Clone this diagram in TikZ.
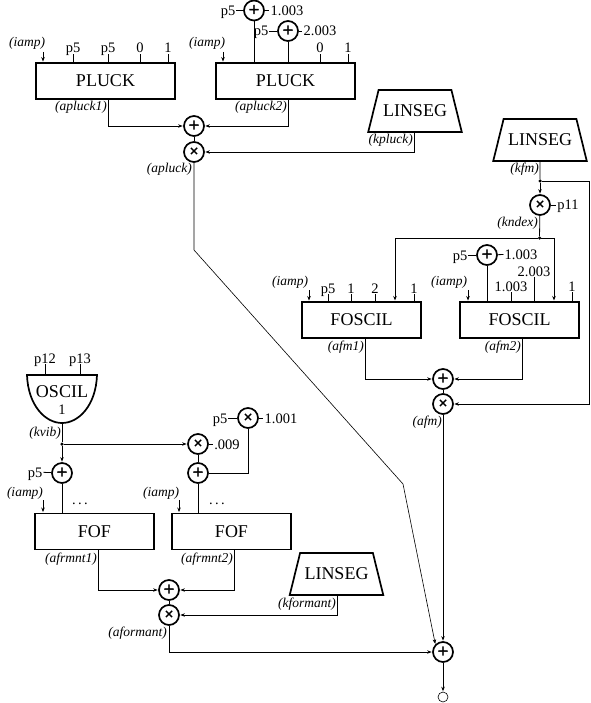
\documentclass[tikz,border=0pt]{standalone}
\usepackage{fontspec}
\setmainfont{Liberation Serif}
\newfontfamily\opfont[FakeBold=2.5]{Liberation Serif}
\usetikzlibrary{arrows.meta,shapes.geometric}

\tikzset{
  blockbox/.style={draw,line width=1.9pt,minimum width=119pt,minimum height=36pt,inner sep=0pt,font=\fontsize{18}{20}\selectfont},
  lineblock/.style={draw,line width=1.7pt,trapezium,trapezium stretches=true,trapezium left angle=53,trapezium right angle=53,minimum width=94pt,minimum height=42pt,inner sep=0pt,font=\fontsize{18}{20}\selectfont},
  sumop/.style={circle,draw,line width=1.7pt,minimum size=20pt,inner sep=0pt,font=\fontsize{19}{20}\opfont},
  multop/.style={sumop,font=\fontsize{16}{17}\opfont},
  pval/.style={inner sep=1pt,text height=10pt,text depth=0pt,font=\fontsize{14.5}{16}\selectfont},
  sigtag/.style={inner sep=1pt,anchor=east,font=\fontsize{13.5}{14}\selectfont\itshape},
  ampin/.style={inner sep=1pt,font=\fontsize{13.5}{14}\selectfont\itshape},
  joint/.style={circle,fill,inner sep=0pt,minimum size=3.5pt},
  wire/.style={line width=0.8pt},
  sig/.style={wire,-{Stealth[length=4.5pt,width=3.5pt]},shorten >=0.5pt}
}

\begin{document}
\begin{tikzpicture}[x=1pt,y=-1pt]
\useasboundingbox (0,0) rectangle (590,703);

\node[blockbox,minimum width=139pt] (pluckA) at (105.5,81) {PLUCK};
\node[blockbox,minimum width=139pt] (pluckB) at (285.5,81) {PLUCK};
\node[sumop] (sumP) at (194,126) {+};
\node[multop] (multP) at (194,152) {\texttimes};
\node[lineblock] (linA) at (415,111) {LINSEG};

\node[ampin] (iampA) at (27,43) {(iamp)};
\node[ampin] (iampB) at (207,43) {(iamp)};
\coordinate (inA) at (43,52);
\coordinate (inB) at (223,52);
\node[pval] (pA1) at (73,48) {p5};
\node[pval] (pA2) at (108,48) {p5};
\node[pval] (pA3) at (140,48) {0};
\node[pval] (pA4) at (168,48) {1};
\node[pval] (pB3) at (320,48) {0};
\node[pval] (pB4) at (348,48) {1};

\node[sumop] (addA) at (254,10.5) {+};
\node[pval] (pC1) at (228,10.5) {p5};
\node[pval] (pC2) at (287,10.5) {1.003};
\node[sumop] (addB) at (288,31) {+};
\node[pval] (pD1) at (261,31) {p5};
\node[pval] (pD2) at (320,31) {2.003};

\node[sigtag] (apluckA) at (108,107) {(apluck1)};
\node[sigtag] (apluckB) at (288,107) {(apluck2)};
\node[sigtag] (apluck) at (193,169) {(apluck)};
\node[sigtag] (kpluck) at (414,140) {(kpluck)};

\draw[sig] (inA) -- (inA |- pluckA.north);
\draw[sig] (inB) -- (inB |- pluckB.north);
\draw[wire] (pA1.south) -- (pA1.south |- pluckA.north);
\draw[wire] (pA2.south) -- (pA2.south |- pluckA.north);
\draw[wire] (pA3.south) -- (pA3.south |- pluckA.north);
\draw[wire] (pA4.south) -- (pA4.south |- pluckA.north);
\draw[wire] (pB3.south) -- (pB3.south |- pluckB.north);
\draw[wire] (pB4.south) -- (pB4.south |- pluckB.north);

\draw[wire] (pC1) -- (addA);
\draw[wire] (addA) -- (pC2);
\draw[wire] (pD1) -- (addB);
\draw[wire] (addB) -- (pD2);
\draw[wire] (addA) -- (addA |- pluckB.north);
\draw[wire] (addB) -- (addB |- pluckB.north);

\draw[sig] (apluckA.east |- pluckA.south) |- (sumP);
\draw[sig] (apluckB.east |- pluckB.south) |- (sumP);
\draw[wire] (sumP) -- (multP);
\draw[sig] (kpluck.east |- linA.south) |- (multP);


\node[lineblock] (linB) at (540,140) {LINSEG};
\node[sigtag] (kfm) at (540,169) {(kfm)};
\node[joint] (jkfm) at (540,181) {};
\node[multop] (multK) at (540,205) {\texttimes};
\node[pval] (pK) at (568,205) {p11};
\node[sigtag] (kndex) at (539,223) {(kndex)};
\node[joint] (jndex) at (539.5,238) {};
\coordinate (fmR) at (589.5,181);

\node[blockbox] (foscilA) at (361.5,320) {FOSCIL};
\node[blockbox] (foscilB) at (519.5,320) {FOSCIL};
\coordinate (fmA) at (395,301);
\coordinate (fmB) at (554,301);

\node[ampin] (iampC) at (290,282) {(iamp)};
\node[ampin] (iampD) at (449,282) {(iamp)};
\coordinate (inC) at (309,290);
\coordinate (inD) at (468,290);
\node[pval] (pE1) at (328,288) {p5};
\node[pval] (pE2) at (351,288) {1};
\node[pval] (pE3) at (375,288) {2};
\node[pval] (pE4) at (414,288) {1};
\node[pval] (pF1) at (511,286) {1.003};
\node[pval] (pF2) at (534,271) {2.003};
\node[pval] (pF3) at (572,286) {1};

\node[sumop] (addC) at (487,255) {+};
\node[pval] (pG1) at (460,255) {p5};
\node[pval] (pG2) at (521,254) {1.003};

\node[sumop] (sumF) at (443,379) {+};
\node[multop] (multF) at (443,404) {\texttimes};
\node[sigtag] (afmA) at (365,347) {(afm1)};
\node[sigtag] (afmB) at (522,347) {(afm2)};
\node[sigtag] (afm) at (443,422) {(afm)};

\draw[wire] (linB.south) -- (jkfm);
\draw[sig] (jkfm) -- (multK);
\draw[wire] (multK) -- (pK);
\draw[wire] (multK) -- (jndex);
\draw[sig] (jkfm) -- (fmR) |- (multF);
\draw[sig] (jndex) -| (fmA);
\draw[sig] (jndex) -| (fmB);

\draw[sig] (inC) -- (inC |- foscilA.north);
\draw[sig] (inD) -- (inD |- foscilB.north);
\draw[wire] (pE1.south) -- (pE1.south |- foscilA.north);
\draw[wire] (pE2.south) -- (pE2.south |- foscilA.north);
\draw[wire] (pE3.south) -- (pE3.south |- foscilA.north);
\draw[wire] (pE4.south) -- (pE4.south |- foscilA.north);
\draw[wire] (pF1.south) -- (pF1.south |- foscilB.north);
\draw[wire] (pF2.south) -- (pF2.south |- foscilB.north);
\draw[wire] (pF3.south) -- (pF3.south |- foscilB.north);

\draw[wire] (pG1) -- (addC);
\draw[wire] (addC) -- (pG2);
\draw[wire] (addC) -- (addC |- foscilB.north);

\draw[sig] (afmA.east |- foscilA.south) |- (sumF);
\draw[sig] (afmB.east |- foscilB.south) |- (sumF);
\draw[wire] (sumF) -- (multF);


\node[pval] (pH1) at (45,358) {p12};
\node[pval] (pH2) at (80,358) {p13};
\node[font=\fontsize{18}{20}\selectfont,inner sep=0pt] (oscil) at (62,392) {OSCIL};
\node[pval] (oscilfn) at (62,409) {1};
\coordinate (oscilNW) at (27,375);
\coordinate (oscilNE) at (97,375);
\coordinate (oscilS) at (62,423);
\draw[line width=1.7pt] (oscilNW) -- (oscilNE) .. controls (96,405) and (79,423) .. (oscilS) .. controls (45,423) and (28,405) .. (oscilNW) -- cycle;

\node[sigtag] (kvib) at (62,433) {(kvib)};
\node[joint] (jvib) at (62,444) {};
\node[sumop] (addD) at (62,473) {+};
\node[pval] (pJ) at (35,472) {p5};
\node[multop] (multV) at (198,444) {\texttimes};
\node[pval] (pL) at (227,444) {.009};
\node[sumop] (addE) at (198,473) {+};
\node[multop] (multW) at (248,418) {\texttimes};
\node[pval] (pM1) at (220,418) {p5};
\node[pval] (pM2) at (281,418) {1.001};

\node[blockbox] (fofA) at (94.5,531.5) {FOF};
\node[blockbox] (fofB) at (231.5,531.5) {FOF};
\node[ampin] (iampE) at (25,493) {(iamp)};
\node[ampin] (iampF) at (161,493) {(iamp)};
\coordinate (inE) at (43,500);
\coordinate (inF) at (179,500);
\node[pval] (dotsA) at (80,499) {.\,.\,.};
\node[pval] (dotsB) at (217,499) {.\,.\,.};

\node[sigtag] (afrmntA) at (98,559) {(afrmnt1)};
\node[sigtag] (afrmntB) at (234,559) {(afrmnt2)};
\node[sumop] (sumR) at (169,590) {+};
\node[multop] (multR) at (169,615) {\texttimes};
\node[lineblock] (linC) at (336.5,574) {LINSEG};
\node[sigtag] (kformant) at (337,604) {(kformant)};
\node[sigtag] (aformant) at (168,633) {(aformant)};

\draw[wire] (pH1.south) -- (pH1.south |- oscilNW);
\draw[wire] (pH2.south) -- (pH2.south |- oscilNW);
\draw[wire] (oscilS) -- (jvib);
\draw[sig] (jvib) -- (addD);
\draw[sig] (jvib) -- (multV);
\draw[wire] (multV) -- (pL);
\draw[wire] (multV) -- (addE);
\draw[wire] (pM1) -- (multW);
\draw[wire] (multW) -- (pM2);
\draw[wire] (multW) |- (addE);
\draw[wire] (pJ) -- (addD);
\draw[wire] (addD) -- (addD |- fofA.north);
\draw[wire] (addE) -- (addE |- fofB.north);
\draw[sig] (inE) -- (inE |- fofA.north);
\draw[sig] (inF) -- (inF |- fofB.north);

\draw[sig] (afrmntA.east |- fofA.south) |- (sumR);
\draw[sig] (afrmntB.east |- fofB.south) |- (sumR);
\draw[wire] (sumR) -- (multR);
\draw[sig] (kformant.east |- linC.south) |- (multR);


\node[sumop] (sumOut) at (443,652) {+};
\node[circle,draw,line width=0.6pt,minimum size=10pt,inner sep=0pt] (audio) at (443,697) {};
\coordinate (bendA) at (194,250);
\coordinate (bendB) at (403,484);

\draw[wire,line width=0.6pt] (multP) -- (bendA) -- (bendB);
\draw[sig,line width=0.6pt] (bendB) -- (sumOut.north west);
\draw[sig] (multF) -- (sumOut);
\draw[sig] (multR) |- (sumOut);
\draw[sig] (sumOut) -- (audio);

\end{tikzpicture}
\end{document}
